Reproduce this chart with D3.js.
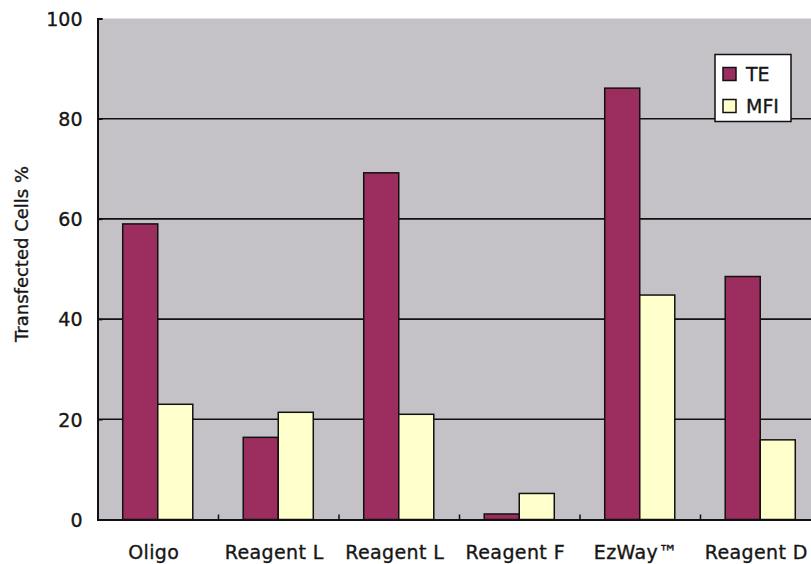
<!DOCTYPE html>
<html><head><meta charset="utf-8">
<script src="https://cdn.jsdelivr.net/npm/d3@7"></script>
<style>
html,body{margin:0;padding:0;background:#fff;}
svg{display:block;}
text{font-family:"DejaVu Sans",Verdana,sans-serif;fill:#161616;stroke:#161616;stroke-width:0.35px;}
</style></head>
<body>
<svg id="chart" width="811" height="564"></svg>
<script>
const categories = ["Oligo","Reagent L","Reagent L","Reagent F","EzWay™","Reagent D"];
const seriesNames = ["TE","MFI"];
const teValues = [59, 16.4, 69.2, 1.1, 86.1, 48.5];
const mfiValues = [23, 21.4, 21, 5.2, 44.8, 15.9];
const yTicks = [0,20,40,60,80,100];
const yTitle = "Transfected Cells %";
const colors = {TE:"#9c2e5f", MFI:"#ffffcc"};

(function(){
const svg = d3.select("#chart");
const pLeft = 97.5, pRight = 820.5, pTop = 18.5, pBottom = 519.5;

const x = d3.scaleBand().domain(d3.range(categories.length)).range([pLeft, pRight]).padding(0);
const xs = d3.scaleBand().domain(seriesNames).range([0, x.bandwidth()]).paddingInner(0).paddingOuter(0.72);
const y = d3.scaleLinear().domain([0,100]).range([pBottom, pTop]);
const xb = d3.scaleLinear().domain([0, categories.length]).range([pLeft, pRight]);

// plot background
svg.append("rect").attr("x", pLeft).attr("y", y(100)).attr("width", pRight-pLeft).attr("height", y(0)-y(100)).attr("fill","#c4c2c6");

// gridlines
svg.append("g").selectAll("line").data(yTicks.filter(t=>t>0 && t<100)).join("line")
  .attr("x1", pLeft).attr("x2", pRight).attr("y1", d=>y(d)).attr("y2", d=>y(d))
  .attr("stroke","#111").attr("stroke-width",1.6);

// bars
const rows = categories.map((c,i)=>({i, TE:teValues[i], MFI:mfiValues[i]}));
const g = svg.append("g");
rows.forEach(r=>{
  seriesNames.forEach(s=>{
    g.append("rect")
      .attr("x", x(r.i)+xs(s)).attr("width", xs.bandwidth())
      .attr("y", y(r[s])).attr("height", y(0)-y(r[s]))
      .attr("fill", colors[s]).attr("stroke","#111").attr("stroke-width",1.5);
  });
});

// y axis
const yAxis = svg.append("g").attr("transform",`translate(${pLeft},0)`)
  .call(d3.axisLeft(y).tickValues(yTicks).tickSize(-5).tickPadding(15).tickFormat(d3.format("d")));
yAxis.select(".domain").attr("stroke","#111").attr("stroke-width",2);
yAxis.selectAll(".tick line").attr("stroke","#111").attr("stroke-width",1.5);
yAxis.selectAll("text").style("font-size","19px").attr("fill","#161616").attr("dy","0.36em");

// x axis boundary ticks
const xTickAxis = svg.append("g").attr("transform",`translate(0,${pBottom})`)
  .call(d3.axisBottom(xb).tickValues(d3.range(1,categories.length)).tickSize(-5).tickFormat(""));
xTickAxis.select(".domain").attr("stroke","#111").attr("stroke-width",2);
xTickAxis.selectAll(".tick line").attr("stroke","#111").attr("stroke-width",1.5);

// x labels
const xAxis = svg.append("g").attr("transform",`translate(-4,${pBottom})`)
  .call(d3.axisBottom(x).tickSize(0).tickPadding(26).tickFormat(i=>categories[i]));
xAxis.select(".domain").remove();
xAxis.selectAll("text").style("font-size","19px").style("letter-spacing","0.4px").attr("fill","#161616");

// y title
svg.append("text").attr("transform",`translate(28,${(pTop+pBottom)/2 - 15}) rotate(-90)`)
  .attr("text-anchor","middle").style("font-size","18px").text(yTitle);

// legend
const lg = svg.append("g").attr("transform","translate(715,54.5)");
lg.append("rect").attr("width",76).attr("height",67).attr("fill","#fff").attr("stroke","#111").attr("stroke-width",1.5);
seriesNames.forEach((s,k)=>{
  lg.append("rect").attr("x",8).attr("y",13+k*32).attr("width",13).attr("height",13)
    .attr("fill",colors[s]).attr("stroke","#111").attr("stroke-width",1.5);
  lg.append("text").attr("x",31).attr("y",19.5+k*32).attr("dy","0.36em").style("font-size","19px").text(s);
});
})();
</script>
</body></html>
